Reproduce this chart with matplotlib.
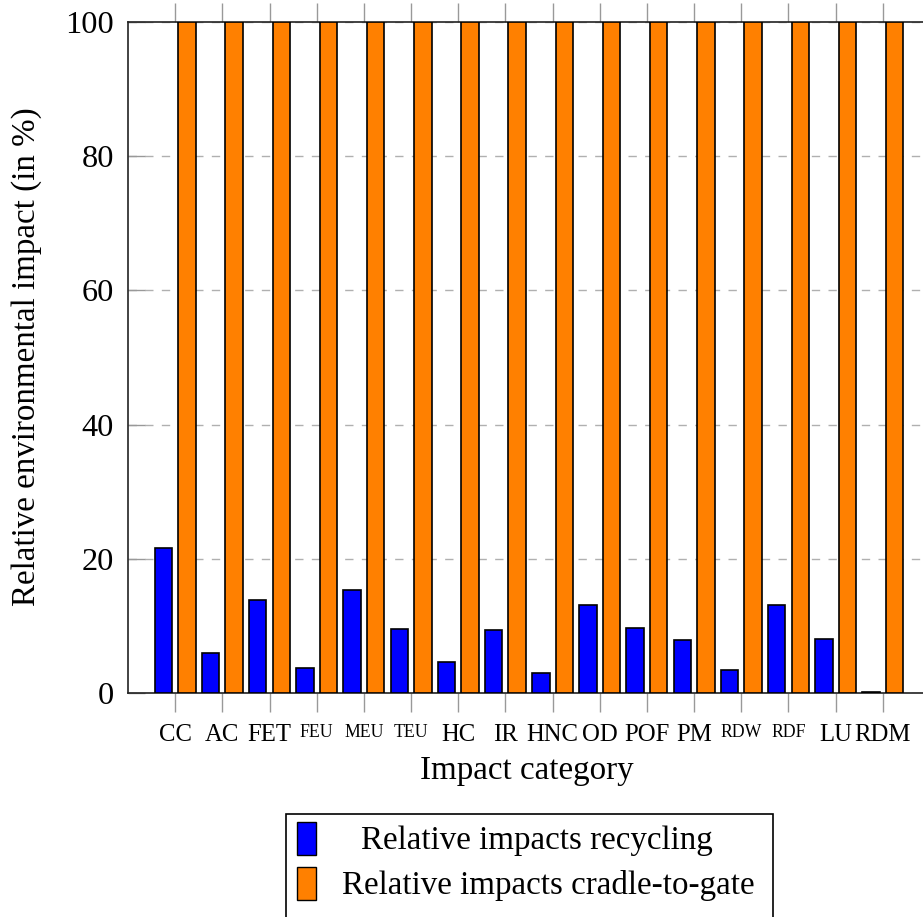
import matplotlib
matplotlib.use("Agg")
import matplotlib.pyplot as plt
from matplotlib.patches import Rectangle
import numpy as np

categories = ["CC", "AC", "FET", "FEU", "MEU", "TEU", "HC", "IR", "HNC",
              "OD", "POF", "PM", "RDW", "RDF", "LU", "RDM"]
small_labels = ["FEU", "MEU", "TEU", "RDW", "RDF"]
recycling = [21.6, 5.9, 13.9, 3.7, 15.3, 9.5, 4.6, 9.4, 3.0,
             13.1, 9.7, 7.9, 3.5, 13.1, 8.0, 0.1]
cradle_to_gate = [100] * 16
series_names = ["Relative impacts recycling", "Relative impacts cradle-to-gate"]
yticks = [0, 20, 40, 60, 80, 100]

plt.rcParams['font.family'] = ['Liberation Serif', 'DejaVu Serif']

W, H = 923, 917
fig = plt.figure(figsize=(W / 100, H / 100), dpi=100)
ax = fig.add_axes([128 / W, (H - 693) / H, (930 - 128) / W, (693 - 22) / H])

x = np.arange(len(categories))
bw = 0.37
off = 0.25
ax.bar(x - off, recycling, bw, color="#0000ff", edgecolor="black", linewidth=1.2, zorder=3)
ax.bar(x + off, cradle_to_gate, bw, color="#ff8000", edgecolor="black", linewidth=1.2, zorder=3)

ax.set_xlim(-1, len(categories))
ax.set_ylim(0, 100)
ax.set_yticks(yticks)
ax.set_yticklabels([str(v) for v in yticks], fontsize=23.3)
ax.set_xticks(x)
ax.set_xticklabels(categories, fontsize=17.8)
for t in ax.get_xticklabels():
    if t.get_text() in small_labels:
        t.set_fontsize(12.8)

ax.tick_params(axis='x', which='both', direction='out', length=14, width=1,
               color='#999999', top=True, pad=8)
ax.tick_params(axis='y', which='both', direction='in', length=12, width=1,
               color='#999999', pad=10)
ax.yaxis.grid(True, linestyle=(0, (6, 6)), color='#b0b0b0', linewidth=1, zorder=0)
for s in ax.spines.values():
    s.set_color('#222222')
    s.set_linewidth(1.2)

fig.text(527 / W, 1 - 771 / H, "Impact category", fontsize=23.8, ha='center', va='center')
fig.text(27 / W, 1 - 357 / H, "Relative environmental impact (in %)", fontsize=23.8,
         ha='center', va='center', rotation=90)

# Legend box (centered entries)
box = Rectangle((286 / W, 1 - 930 / H), (773 - 286) / W, (930 - 814) / H,
                transform=fig.transFigure, facecolor='white', edgecolor='black',
                linewidth=1.2)
fig.patches.append(box)
colors = ["#0000ff", "#ff8000"]
rows = [(822, 855), (867, 900)]
text_cx = [537, 548]
for name, c, (t0, t1), cx in zip(series_names, colors, rows, text_cx):
    fig.patches.append(Rectangle((297 / W, 1 - t1 / H), 19 / W, (t1 - t0) / H,
                                 transform=fig.transFigure, facecolor=c,
                                 edgecolor='black', linewidth=1))
    fig.text(cx / W, 1 - ((t0 + t1) / 2 + 2) / H, name, fontsize=23.8, ha='center', va='center')

fig.savefig("out.png", dpi=100)
